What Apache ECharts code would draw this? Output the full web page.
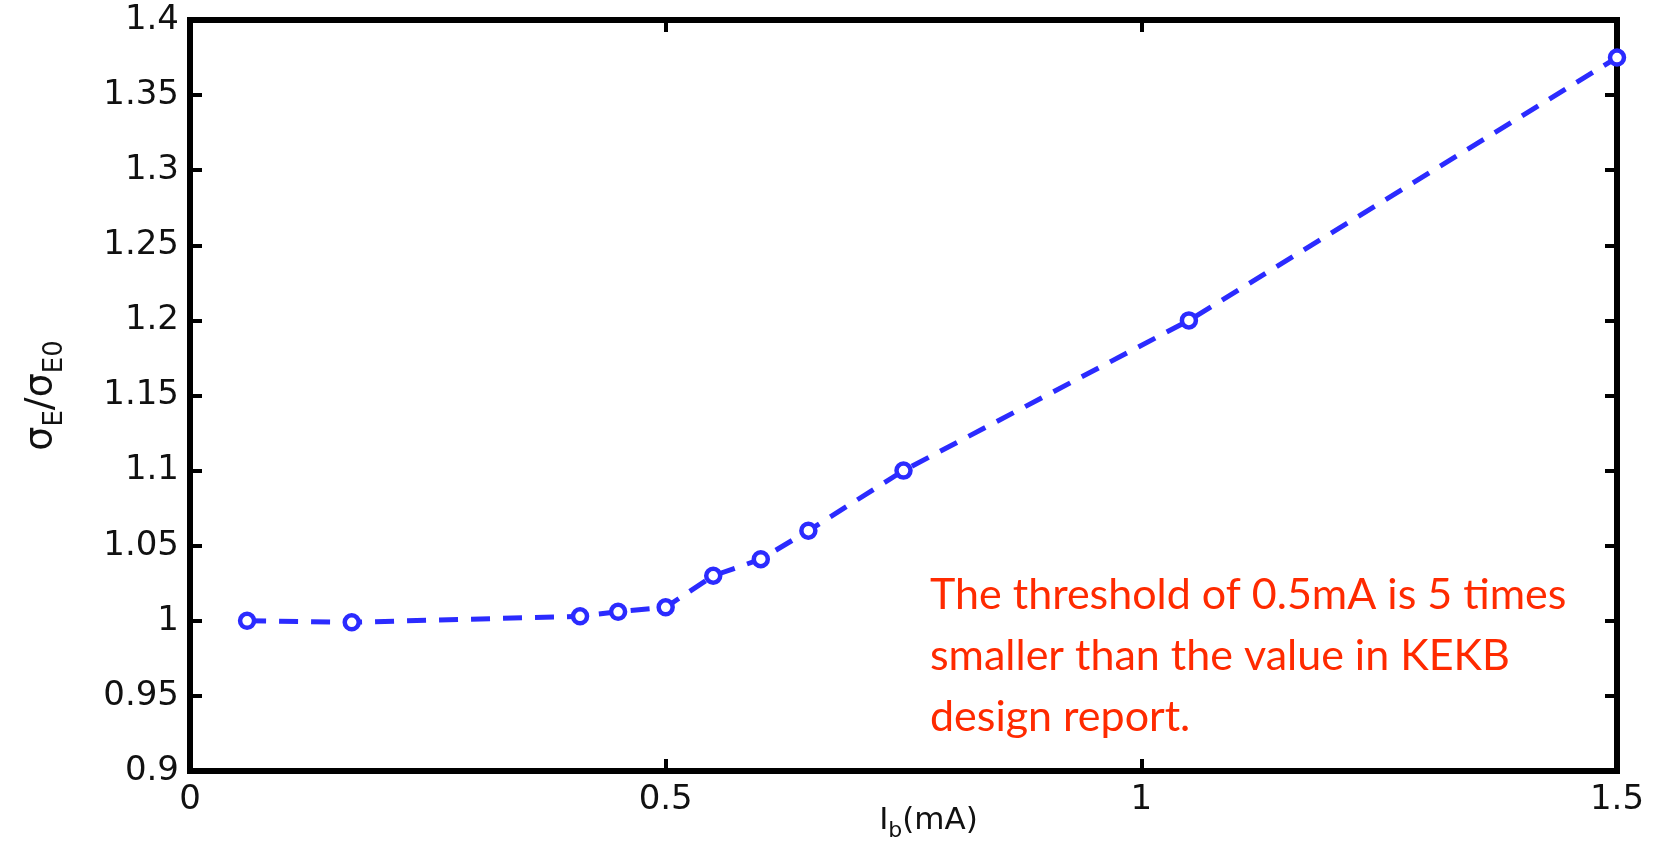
<!DOCTYPE html>
<html>
<head>
<meta charset="utf-8">
<title>Energy spread vs bunch current</title>
<script src="https://cdn.jsdelivr.net/npm/echarts@6/dist/echarts.min.js"></script>
<style>
  html, body { margin: 0; padding: 0; background: #fff; }
  #chart { width: 1655px; height: 852px; }
</style>
</head>
<body>
<div id="chart"></div>
<script>
// Bunch current I_b (mA) and relative energy spread sigma_E / sigma_E0
const bunchCurrent = [0.06, 0.17, 0.41, 0.45, 0.50, 0.55, 0.60, 0.65, 0.75, 1.05, 1.50];
const spreadRatio  = [1.000, 0.999, 1.003, 1.006, 1.009, 1.030, 1.041, 1.060, 1.100, 1.200, 1.375];

// Axis ranges and tick spacing
const xRange = [0, 1.5];
const xStep = 0.5;
const yRange = [0.9, 1.4];
const yStep = 0.05;

const noteLines = [
  'The threshold of 0.5mA is 5 times',
  'smaller than the value in KEKB',
  'design report.'
];

const points = bunchCurrent.map((x, i) => [x, spreadRatio[i]]);

const blue = '#2b2bff';
const frame = { color: '#000', width: 6, cap: 'square' };
const tickFont = { fontFamily: 'DejaVu Sans', fontSize: 34, color: '#111' };
const tickStyle = { show: true, inside: true, length: 12, lineStyle: { color: '#000', width: 4 } };

const chart = echarts.init(document.getElementById('chart'), null, { renderer: 'canvas' });

chart.setOption({
  backgroundColor: '#ffffff',
  animation: false,
  grid: { left: 190, right: 38, top: 20, bottom: 81, containLabel: false, outerBoundsMode: 'none' },
  xAxis: [
    {
      type: 'value', position: 'bottom',
      min: xRange[0], max: xRange[1], interval: xStep,
      axisLine: { show: true, onZero: false, lineStyle: frame },
      axisTick: tickStyle,
      axisLabel: Object.assign({ margin: 12 }, tickFont),
      splitLine: { show: false },
      name: '{m|I}{s|b}{m|(mA)}',
      nameLocation: 'middle',
      nameMoveOverlap: false,
      nameGap: 29,
      nameTextStyle: {
        padding: [0, 0, 0, 50],
        rich: {
          m: { fontFamily: 'DejaVu Sans', fontSize: 31, color: '#111', lineHeight: 42 },
          s: { fontFamily: 'DejaVu Sans', fontSize: 22, color: '#111', lineHeight: 21, verticalAlign: 'bottom' }
        }
      }
    },
    {
      type: 'value', position: 'top',
      min: xRange[0], max: xRange[1], interval: xStep,
      axisLine: { show: true, onZero: false, lineStyle: frame },
      axisTick: tickStyle,
      axisLabel: { show: false },
      splitLine: { show: false }
    }
  ],
  yAxis: [
    {
      type: 'value', position: 'left',
      min: yRange[0], max: yRange[1], interval: yStep,
      axisLine: { show: true, onZero: false, lineStyle: frame },
      axisTick: tickStyle,
      axisLabel: Object.assign({ margin: 11 }, tickFont),
      splitLine: { show: false },
      name: '{m|σ}{s|E}{m|/σ}{s|E0}',
      nameLocation: 'middle',
      nameMoveOverlap: false,
      nameRotate: 90,
      nameGap: 122,
      nameTextStyle: {
        rich: {
          m: { fontFamily: 'DejaVu Sans', fontSize: 38, color: '#111', lineHeight: 54 },
          s: { fontFamily: 'DejaVu Sans', fontSize: 26, color: '#111', lineHeight: 26, verticalAlign: 'bottom' }
        }
      }
    },
    {
      type: 'value', position: 'right',
      min: yRange[0], max: yRange[1], interval: yStep,
      axisLine: { show: true, onZero: false, lineStyle: frame },
      axisTick: tickStyle,
      axisLabel: { show: false },
      splitLine: { show: false }
    }
  ],
  graphic: [
    {
      type: 'text',
      left: 930,
      top: 565,
      z: 10,
      style: {
        text: noteLines.join('\n'),
        font: '43px Lato',
        fill: '#ff2a00',
        lineHeight: 61
      }
    }
  ],
  series: [
    {
      type: 'line',
      data: points,
      xAxisIndex: 0,
      yAxisIndex: 0,
      clip: false,
      z: 5,
      symbol: 'circle',
      symbolSize: 14,
      lineStyle: { color: blue, width: 5, type: [19, 13] },
      itemStyle: { color: '#ffffff', borderColor: blue, borderWidth: 4.5 }
    }
  ]
});
</script>
</body>
</html>
